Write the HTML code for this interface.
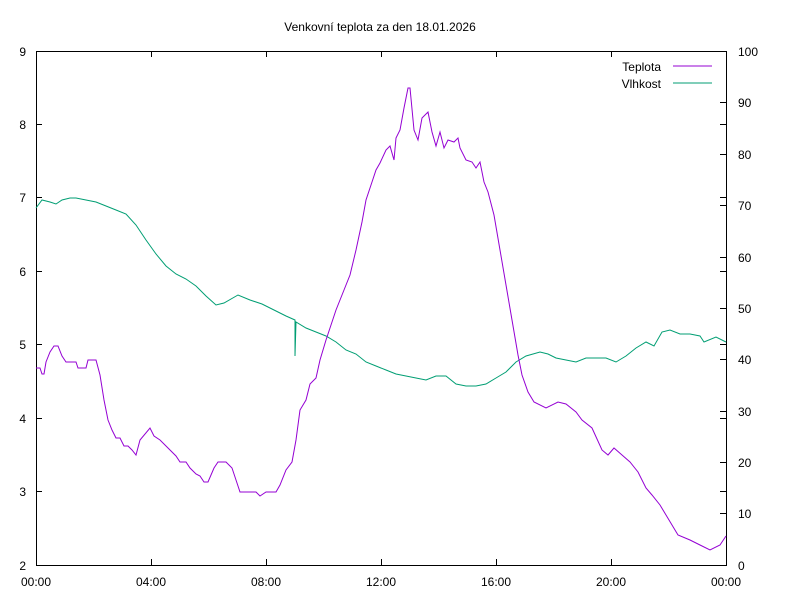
<!DOCTYPE html>
<html><head><style>body{margin:0;background:#fff}</style></head><body>
<svg width="800" height="600" xmlns="http://www.w3.org/2000/svg" font-family="Liberation Sans, Arial, sans-serif" font-size="12">
<rect width="800" height="600" fill="#fff"/>
<text x="380" y="31" text-anchor="middle">Venkovní teplota za den 18.01.2026</text>
<g stroke="#000" stroke-width="1" fill="none">
<rect x="36.5" y="51.5" width="690" height="514"/>
<path d="M36 124.5h6M36 197.5h6M36 271.5h6M36 344.5h6M36 418.5h6M36 491.5h6
M726 124.5h-6M726 197.5h-6M726 271.5h-6M726 344.5h-6M726 418.5h-6M726 491.5h-6
M726 102.5h-6M726 154.5h-6M726 205.5h-6M726 257.5h-6M726 308.5h-6M726 359.5h-6M726 411.5h-6M726 462.5h-6M726 513.5h-6
M151.5 565v-6M266.5 565v-6M381.5 565v-6M496.5 565v-6M611.5 565v-6
M151.5 51v6M266.5 51v6M381.5 51v6M496.5 51v6M611.5 51v6"/>
</g>
<g text-anchor="end">
<text x="26" y="56">9</text><text x="26" y="129">8</text><text x="26" y="202">7</text><text x="26" y="276">6</text>
<text x="26" y="349">5</text><text x="26" y="423">4</text><text x="26" y="496">3</text><text x="26" y="570">2</text>
</g>
<g>
<text x="738" y="56">100</text><text x="738" y="107">90</text><text x="738" y="159">80</text><text x="738" y="210">70</text>
<text x="738" y="262">60</text><text x="738" y="313">50</text><text x="738" y="364">40</text><text x="738" y="416">30</text>
<text x="738" y="467">20</text><text x="738" y="518">10</text><text x="738" y="570">0</text>
</g>
<g text-anchor="middle">
<text x="36" y="586">00:00</text><text x="151" y="586">04:00</text><text x="266" y="586">08:00</text><text x="381" y="586">12:00</text>
<text x="496" y="586">16:00</text><text x="611" y="586">20:00</text><text x="726" y="586">00:00</text>
</g>
<text x="661" y="71" text-anchor="end">Teplota</text>
<text x="661" y="88" text-anchor="end">Vlhkost</text>
<line x1="673" y1="66" x2="712" y2="66" stroke="#9400d3"/>
<line x1="673" y1="83" x2="712" y2="83" stroke="#009e73"/>
<polyline fill="none" stroke="#009e73" stroke-width="1" points="36,208 42,200 50,202 56,204 62,200 70,198 76,198 86,200 96,202 106,206 116,210 126,214 136,225 146,240 156,254 166,266 176,274 186,279 196,286 206,296 216,305 224,303 238,295 250,300 262,304 274,310 286,316 295,320 295,356 296,322 306,328 316,332 326,336 336,342 346,350 356,354 366,362 376,366 386,370 396,374 406,376 416,378 426,380 436,376 446,376 456,384 466,386 476,386 486,384 496,378 506,372 516,362 526,356 540,352 548,354 556,358 566,360 576,362 586,358 596,358 606,358 616,362 626,356 636,348 646,342 654,346 662,332 670,330 680,334 690,334 700,336 704,342 716,337 726,342"/>
<polyline fill="none" stroke="#9400d3" stroke-width="1" points="36,368 40,368 42,374 44,374 46,362 50,352 54,346 58,346 62,356 66,362 76,362 78,368 86,368 88,360 96,360 100,375 104,400 108,420 112,430 116,438 120,438 124,446 128,446 132,450 136,455 140,440 150,428 154,436 160,440 170,450 176,456 180,462 186,462 190,468 196,474 200,476 204,482 208,482 214,468 218,462 226,462 232,468 236,480 240,492 256,492 260,496 266,492 276,492 280,485 286,470 292,462 296,440 300,410 306,400 310,384 316,378 320,360 326,340 336,310 344,290 350,275 356,250 362,222 366,200 372,182 376,170 380,163 386,150 390,146 394,160 396,138 400,130 404,108 408,88 410,88 414,130 418,140 422,118 428,112 432,132 436,146 440,132 444,148 448,140 454,142 458,138 460,148 466,160 472,162 476,168 480,162 484,182 488,192 494,215 500,250 506,285 512,320 518,355 522,375 528,392 534,402 546,408 558,402 566,404 576,412 582,420 592,428 602,450 608,455 614,448 622,455 630,462 638,472 646,488 652,495 660,505 666,515 672,525 678,535 690,540 700,545 710,550 720,545 726,536"/>
</svg>
</body></html>
